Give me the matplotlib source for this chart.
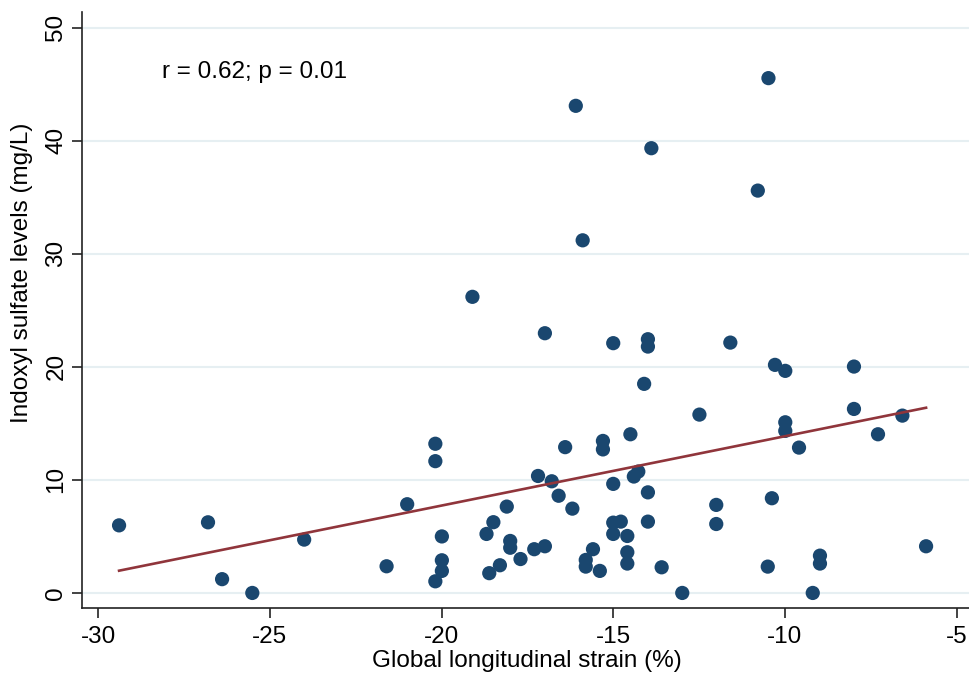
import matplotlib
matplotlib.use("Agg")
import matplotlib.pyplot as plt
import numpy as np

plt.rcParams['font.family'] = ['Liberation Sans', 'DejaVu Sans']

# global longitudinal strain (%) and indoxyl sulfate (mg/L)
gls = [
    -29.39, -26.80, -26.39, -25.51, -24.00, -21.60, -21.00, -20.18, -20.18, -19.99,
    -19.99, -19.99, -20.18, -18.69, -18.49, -18.61, -18.30, -18.10, -18.00, -18.00,
    -17.70, -17.30, -16.99, -17.19, -16.79, -16.59, -16.19, -16.40, -15.80, -15.80,
    -15.59, -15.39, -15.30, -15.30, -15.00, -15.00, -14.78, -15.00, -14.59, -14.59,
    -14.59, -14.50, -14.40, -14.27, -13.99, -13.99, -14.10, -13.59, -12.99, -12.49,
    -12.00, -12.00, -13.99, -13.99, -11.59, -10.29, -9.99, -7.99, -9.99, -9.99,
    -9.59, -7.99, -7.29, -6.58, -10.38, -10.50, -9.19, -8.98, -8.98, -5.89,
    -16.09, -10.48, -13.89, -10.79, -15.89, -19.10, -16.99, -15.00,
]
indoxyl = [
    5.98, 6.25, 1.22, 0.0, 4.72, 2.36, 7.85, 13.2, 11.66, 5.0,
    2.89, 1.95, 1.03, 5.22, 6.26, 1.75, 2.45, 7.64, 4.6, 4.0,
    3.0, 3.87, 4.13, 10.35, 9.88, 8.6, 7.46, 12.9, 2.92, 2.33,
    3.87, 1.95, 13.45, 12.7, 9.65, 6.22, 6.31, 5.22, 5.04, 3.6,
    2.6, 14.04, 10.3, 10.74, 8.9, 6.31, 18.5, 2.27, 0.0, 15.78,
    7.79, 6.1, 22.45, 21.8, 22.15, 20.18, 19.65, 20.03, 15.1, 14.34,
    12.86, 16.28, 14.04, 15.69, 8.38, 2.33, 0.0, 3.3, 2.6, 4.13,
    43.1, 45.55, 39.35, 35.6, 31.2, 26.2, 22.98, 22.1,
]

# fitted line as shown on the chart
fit_intercept = 20.0
fit_slope = 0.6135

x_ticks = [-30, -25, -20, -15, -10, -5]
y_ticks = [0, 10, 20, 30, 40, 50]
annotation = "r = 0.62; p = 0.01"

navy = "#1a476f"
maroon = "#90353b"
fs = 17.5

fig = plt.figure(figsize=(9.69, 6.79), dpi=100)
ax = fig.add_axes([0.0846, 0.1046, 0.9154, 0.8777])

ax.scatter(gls, indoxyl, s=105, color=navy, edgecolors="none", zorder=3)

xs = np.array([min(gls), max(gls)])
ax.plot(xs, fit_intercept + fit_slope * xs, color=maroon, lw=1.9, zorder=4)

ax.set_xlim(-30.47, -4.64)
ax.set_ylim(-1.33, 51.4)
ax.set_xticks(x_ticks)
ax.set_yticks(y_ticks)
ax.set_xticklabels([str(t) for t in x_ticks])
ax.set_yticklabels([str(t) for t in y_ticks], rotation=90, va="center")

ax.grid(axis="y", color="#e6eff2", lw=1.5, zorder=0)
ax.set_axisbelow(True)

for side in ["top", "right"]:
    ax.spines[side].set_visible(False)
for side in ["left", "bottom"]:
    ax.spines[side].set_color("#222222")
    ax.spines[side].set_linewidth(1.2)

ax.tick_params(axis="both", length=7, width=1.2, color="#222222", labelsize=fs)
ax.tick_params(axis="x", pad=6)
ax.tick_params(axis="y", pad=3.5)

ax.set_xlabel("Global longitudinal strain (%)", fontsize=fs)
ax.set_ylabel("Indoxyl sulfate levels (mg/L)", fontsize=fs)
ax.xaxis.set_label_coords(0.502, -0.071)
ax.yaxis.set_label_coords(-0.0552, 0.562)

ax.text(-28.14, 46.1, annotation, fontsize=fs, ha="left", va="center")

fig.savefig("out.png", dpi=100)
